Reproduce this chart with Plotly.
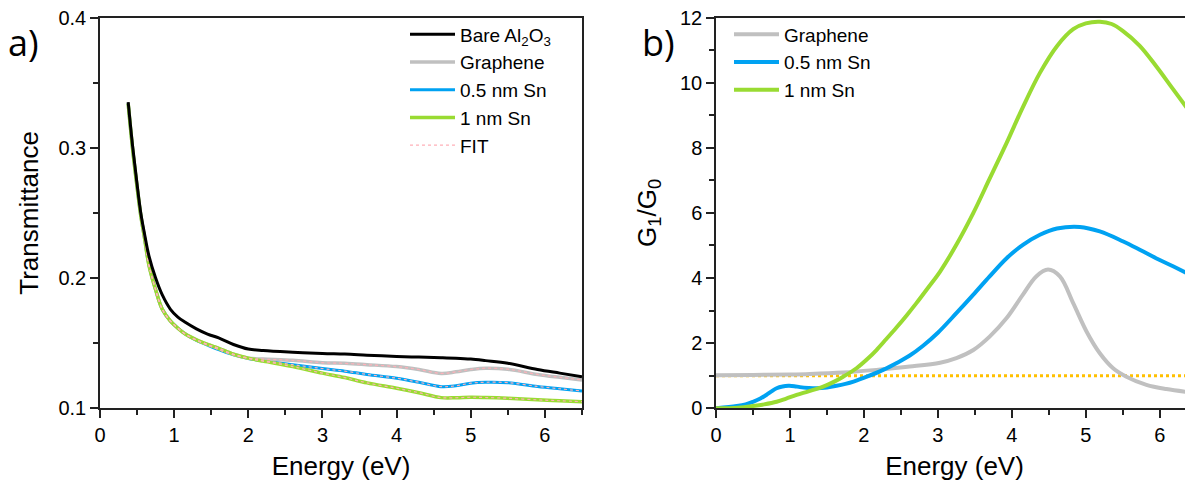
import plotly.graph_objects as go

# ---------------- Panel a data: Transmittance vs Energy ----------------
energy_a = [0.38, 0.44, 0.50, 0.55, 0.60, 0.66, 0.75, 0.84, 0.95, 1.05, 1.15, 1.30, 1.45, 1.60,
            1.80, 2.00, 2.20, 2.60, 3.00, 3.30, 3.60, 4.00, 4.30, 4.60, 4.80, 5.00, 5.20, 5.50,
            5.90, 6.20, 6.50]
bare_al2o3 = [0.335, 0.301, 0.272, 0.250, 0.234, 0.217, 0.200, 0.187, 0.176, 0.170, 0.166, 0.161,
              0.157, 0.154, 0.149, 0.1455, 0.1443, 0.1430, 0.1420, 0.1416, 0.1408, 0.1398, 0.1393,
              0.1389, 0.1385, 0.1378, 0.1366, 0.1346, 0.1298, 0.1270, 0.1243]
graphene_a = [0.334, 0.299, 0.270, 0.248, 0.231, 0.210, 0.191, 0.176, 0.167, 0.1615, 0.157, 0.1525,
              0.149, 0.146, 0.1415, 0.1385, 0.1378, 0.1368, 0.1350, 0.1345, 0.1335, 0.1320, 0.1298,
              0.1268, 0.1280, 0.1298, 0.1308, 0.1300, 0.1260, 0.1238, 0.1218]
sn05_a = [0.334, 0.299, 0.270, 0.248, 0.231, 0.210, 0.191, 0.176, 0.167, 0.1615, 0.157, 0.1522,
          0.1485, 0.1450, 0.1410, 0.1383, 0.1365, 0.1335, 0.1305, 0.1285, 0.1260, 0.1231, 0.1200,
          0.1166, 0.1173, 0.1193, 0.1200, 0.1197, 0.1168, 0.1150, 0.1133]
sn1_a = [0.334, 0.299, 0.270, 0.248, 0.231, 0.210, 0.191, 0.176, 0.167, 0.1615, 0.157, 0.1525,
         0.149, 0.146, 0.1415, 0.1385, 0.1362, 0.1320, 0.1270, 0.1236, 0.1195, 0.1154, 0.1120,
         0.1082, 0.1081, 0.1085, 0.1083, 0.1077, 0.1065, 0.1058, 0.1051]

# ---------------- Panel b data: G1/G0 vs Energy ----------------
energy_b_gr = [0.0, 0.5, 1.0, 1.27, 1.72, 2.17, 2.62, 3.03, 3.25, 3.48, 3.70, 3.93, 4.15, 4.33,
               4.49, 4.65, 4.83, 5.01, 5.19, 5.37, 5.55, 5.82, 6.09, 6.45]
graphene_b = [1.015, 1.025, 1.04, 1.055, 1.10, 1.18, 1.28, 1.40, 1.54, 1.79, 2.20, 2.77, 3.49, 4.05,
              4.26, 4.05, 3.23, 2.36, 1.69, 1.23, 0.97, 0.72, 0.59, 0.48]

energy_b_05 = [0.0, 0.28, 0.40, 0.50, 0.60, 0.68, 0.75, 0.82, 0.90, 0.98, 1.06, 1.135, 1.25, 1.36,
               1.50, 1.63, 1.75, 1.86, 2.04, 2.26, 2.45, 2.62, 2.80, 3.00, 3.25, 3.48, 3.70, 3.93,
               4.15, 4.38, 4.61, 4.92, 5.19, 5.50, 5.73, 5.95, 6.18, 6.45]
sn05_b = [0.0, 0.07, 0.12, 0.20, 0.30, 0.41, 0.52, 0.615, 0.67, 0.69, 0.68, 0.65, 0.625, 0.615,
          0.64, 0.69, 0.75, 0.82, 0.97, 1.18, 1.40, 1.62, 1.92, 2.32, 2.92, 3.49, 4.05, 4.61,
          5.02, 5.33, 5.52, 5.57, 5.43, 5.13, 4.87, 4.61, 4.36, 4.05]

energy_b_1 = [0.0, 0.30, 0.50, 0.65, 0.82, 0.95, 1.09, 1.25, 1.45, 1.60, 1.72, 1.90, 2.05, 2.17,
              2.30, 2.44, 2.58, 2.71, 2.87, 3.03, 3.25, 3.48, 3.70, 3.93, 4.15, 4.38, 4.61, 4.83,
              5.00, 5.19, 5.35, 5.50, 5.73, 5.95, 6.18, 6.45]
sn1_b = [0.0, 0.02, 0.07, 0.12, 0.20, 0.30, 0.41, 0.52, 0.665, 0.82, 0.97, 1.23, 1.52, 1.79,
         2.12, 2.48, 2.86, 3.23, 3.71, 4.20, 5.02, 6.00, 7.05, 8.15, 9.25, 10.30, 11.12, 11.64,
         11.82, 11.87, 11.80, 11.59, 11.13, 10.51, 9.80, 8.97]

ref_x = [0.0, 6.5]
ref_y = [1.0, 1.0]

BLACK = "#000000"
GRAY = "#C0C0C0"
BLUE = "#00A2F2"
GREEN = "#99DB32"
PINK = "#FFB0B8"
ORANGE = "#FFC000"

FONT = "Arial"

fig = go.Figure()

# Panel a traces (draw order), legend order by legendrank
fig.add_trace(go.Scatter(x=energy_a, y=sn05_a, mode="lines", name="0.5 nm Sn", line=dict(color=BLUE, width=3, shape="spline"),
                         xaxis="x", yaxis="y", legend="legend", legendrank=3))
fig.add_trace(go.Scatter(x=energy_a, y=graphene_a, mode="lines", name="Graphene", line=dict(color=GRAY, width=3.5, shape="spline"),
                         xaxis="x", yaxis="y", legend="legend", legendrank=2))
fig.add_trace(go.Scatter(x=energy_a, y=sn1_a, mode="lines", name="1 nm Sn", line=dict(color=GREEN, width=3.5, shape="spline"),
                         xaxis="x", yaxis="y", legend="legend", legendrank=4))
for i, ys in enumerate([graphene_a, sn05_a, sn1_a]):
    fig.add_trace(go.Scatter(x=energy_a, y=ys, mode="lines", name="FIT", legendgroup="fit",
                             showlegend=(i == 0), line=dict(color=PINK, width=1.2, dash="dot", shape="spline"),
                             xaxis="x", yaxis="y", legend="legend", legendrank=5))
fig.add_trace(go.Scatter(x=energy_a, y=bare_al2o3, mode="lines", name="Bare Al<sub>2</sub>O<sub>3</sub>",
                         line=dict(color=BLACK, width=3, shape="spline"),
                         xaxis="x", yaxis="y", legend="legend", legendrank=1))

# Panel b traces
fig.add_trace(go.Scatter(x=ref_x, y=ref_y, mode="lines", showlegend=False, line=dict(color=ORANGE, width=3, dash="dot"),
                         xaxis="x2", yaxis="y2", hoverinfo="skip"))
fig.add_trace(go.Scatter(x=energy_b_gr, y=graphene_b, mode="lines", name="Graphene", line=dict(color=GRAY, width=4, shape="spline"),
                         xaxis="x2", yaxis="y2", legend="legend2", legendrank=1))
fig.add_trace(go.Scatter(x=energy_b_05, y=sn05_b, mode="lines", name="0.5 nm Sn", line=dict(color=BLUE, width=4, shape="spline"),
                         xaxis="x2", yaxis="y2", legend="legend2", legendrank=2))
fig.add_trace(go.Scatter(x=energy_b_1, y=sn1_b, mode="lines", name="1 nm Sn", line=dict(color=GREEN, width=4, shape="spline"),
                         xaxis="x2", yaxis="y2", legend="legend2", legendrank=3))

# The page body has an 8 px default margin: the figure is shrunk by that amount
OFF = 8
W, H = 1193 - OFF, 489 - OFF
def px(x):
    return (x - OFF) / W
def py(y):
    return 1 - (y - OFF) / H

AXC = "#222222"
tickfont = dict(family=FONT, size=20, color="black")
titlefont = dict(family=FONT, size=26, color="black")

def axis_common(**kw):
    d = dict(showline=True, linecolor=AXC, linewidth=1.5, ticks="outside", ticklen=8, tickwidth=1.5,
             tickcolor=AXC, showgrid=False, zeroline=False, tickfont=tickfont, automargin=False,
             ticklabeloverflow="allow")
    d.update(kw)
    return d

fig.update_layout(
    width=W, height=H,
    margin=dict(l=0, r=0, t=0, b=0),
    paper_bgcolor="white", plot_bgcolor="white",
    font=dict(family=FONT),
    xaxis=axis_common(domain=[px(100), px(582)], range=[0, 6.5], dtick=1, tick0=0, mirror=True,
                      minor=dict(ticks="outside", ticklen=5, tickwidth=1.5, tickcolor=AXC, dtick=0.5),
                      title=dict(text="Energy (eV)", font=titlefont, standoff=12), anchor="y"),
    yaxis=axis_common(domain=[py(408.3), py(17.5)], range=[0.1, 0.4], dtick=0.1, tick0=0.1, mirror=True,
                      tickformat=".1f",
                      minor=dict(ticks="outside", ticklen=5, tickwidth=1.5, tickcolor=AXC, dtick=0.05),
                      title=dict(text="Transmittance", font=titlefont, standoff=12), anchor="x"),
    xaxis2=axis_common(domain=[px(716), 1.0], range=[0, 6.45], dtick=1, tick0=0, mirror=True,
                       minor=dict(ticks="outside", ticklen=5, tickwidth=1.5, tickcolor=AXC, dtick=0.5),
                       title=dict(text="Energy (eV)", font=titlefont, standoff=12), anchor="y2"),
    yaxis2=axis_common(domain=[py(408.3), py(17.5)], range=[0, 12], dtick=2, tick0=0,
                       minor=dict(ticks="outside", ticklen=5, tickwidth=1.5, tickcolor=AXC, dtick=1),
                       title=dict(text="G<sub>1</sub>/G<sub>0</sub>", font=titlefont, standoff=16), anchor="x2"),
    legend=dict(x=px(405), y=py(15.5), xanchor="left", yanchor="top", bgcolor="rgba(0,0,0,0)",
                font=dict(family=FONT, size=19, color="black"), itemwidth=45,
                tracegroupgap=0, traceorder="normal"),
    legend2=dict(x=px(729), y=py(15.5), xanchor="left", yanchor="top", bgcolor="rgba(0,0,0,0)",
                 font=dict(family=FONT, size=19, color="black"), itemwidth=45,
                 tracegroupgap=0, traceorder="normal"),
    annotations=[
        dict(text="a)", x=px(6), y=py(42), xref="paper", yref="paper", xanchor="left", yanchor="middle",
             showarrow=False, font=dict(family="Open Sans", size=36, color="black")),
        dict(text="b)", x=px(640), y=py(42), xref="paper", yref="paper", xanchor="left", yanchor="middle",
             showarrow=False, font=dict(family="Open Sans", size=36, color="black")),
    ],
)

fig.write_html("out.html")
